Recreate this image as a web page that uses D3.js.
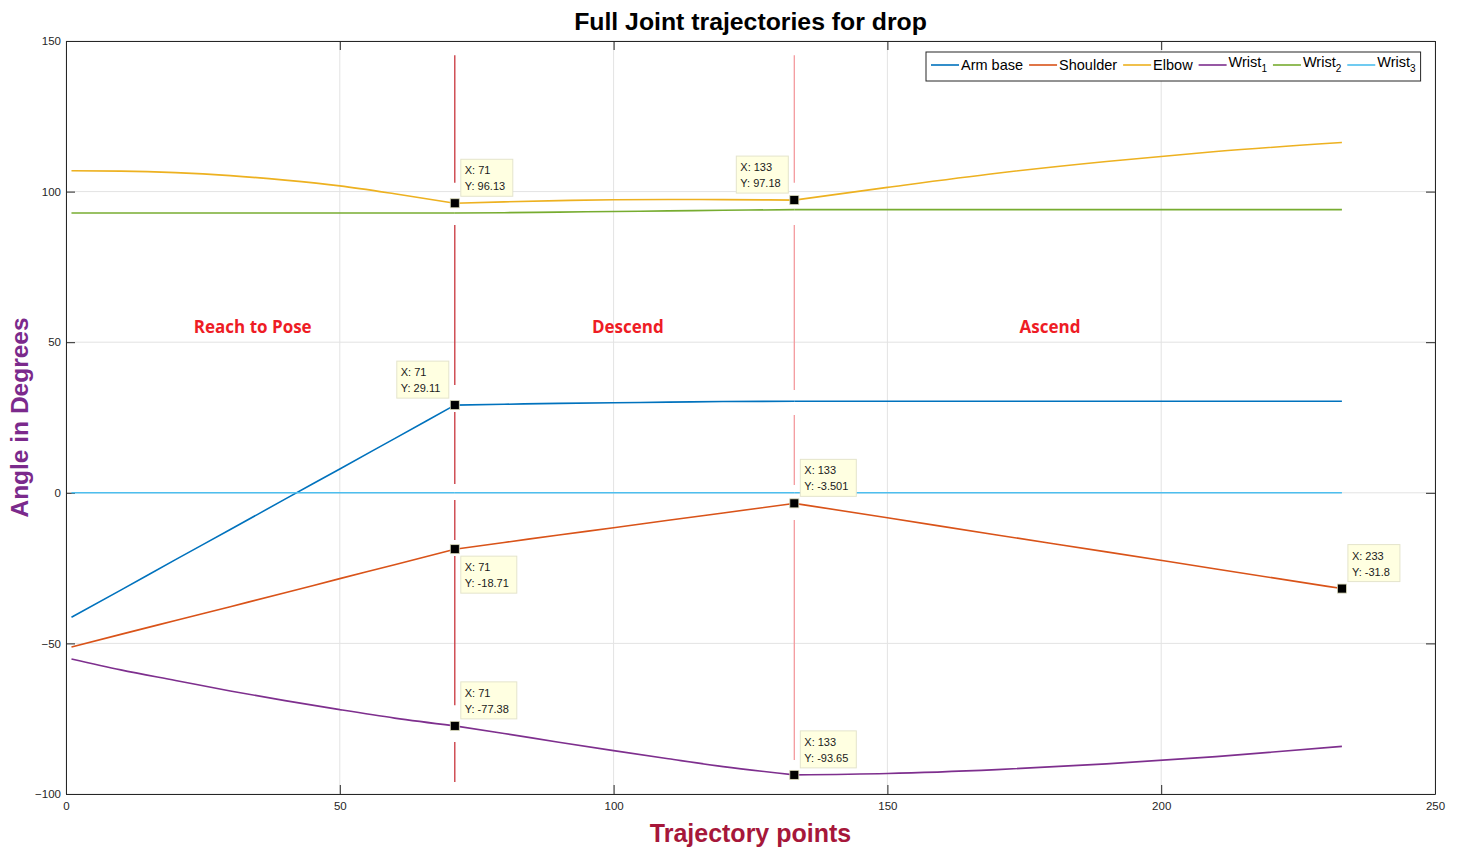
<!DOCTYPE html>
<html>
<head>
<meta charset="utf-8">
<script src="https://cdn.jsdelivr.net/npm/d3@7"></script>
<style>
  body { margin: 0; background: #fff; }
  svg { display: block; font-family: "Liberation Sans", Arial, sans-serif; }
</style>
</head>
<body>
<div id="chart"></div>
<script>
// Trajectory sample points (x axis)
var points = [1, 10, 20, 30, 40, 50, 60, 71, 80, 90, 100, 110, 120, 133, 150, 170, 190, 210, 233];

// Joint angles (degrees)
var armBase  = [-41.3, -32.3, -22.2, -12.2, -2.1, 7.9, 18.0, 29.11, 29.4, 29.7, 29.9, 30.1, 30.3, 30.4, 30.4, 30.4, 30.4, 30.4, 30.4];
var shoulder = [-51.2, -47.0, -42.4, -37.8, -33.2, -28.5, -23.9, -18.71, -16.5, -14.0, -11.6, -9.1, -6.7, -3.501, -8.3, -14.0, -19.6, -25.3, -31.8];
var elbow    = [106.9, 106.8, 106.3, 105.3, 103.8, 101.9, 99.3, 96.13, 96.6, 97.0, 97.3, 97.4, 97.35, 97.18, 101.4, 106.1, 110.0, 113.3, 116.3];
var wrist1   = [-55.2, -58.8, -62.3, -65.8, -69.0, -72.0, -74.8, -77.38, -79.9, -82.8, -85.6, -88.3, -90.9, -93.65, -93.2, -91.9, -90.0, -87.6, -84.2];
var wrist2   = [92.9, 92.9, 92.9, 92.9, 92.9, 92.9, 92.9, 92.9, 93.0, 93.2, 93.4, 93.6, 93.8, 94.0, 94.0, 94.0, 94.0, 94.0, 94.0];
var wrist3   = [0, 0, 0, 0, 0, 0, 0, 0, 0, 0, 0, 0, 0, 0, 0, 0, 0, 0, 0];

var seriesNames = ["Arm base", "Shoulder", "Elbow", "Wrist1", "Wrist2", "Wrist3"];
var seriesValues = [armBase, shoulder, elbow, wrist1, wrist2, wrist3];
var seriesColors = ["#0072BD", "#D95319", "#EDB120", "#7E2F8E", "#77AC30", "#4DBEEE"];

// Tick labels
var xTicks = [0, 50, 100, 150, 200, 250];
var yTicks = [-100, -50, 0, 50, 100, 150];

// Data tips: series index, x, y
var tipSeries = [2, 2, 0, 1, 1, 1, 3, 3];
var tipX = [71, 133, 71, 71, 133, 233, 71, 133];
var tipY = [96.13, 97.18, 29.11, -18.71, -3.501, -31.8, -77.38, -93.65];
var tipLabelY = ["96.13", "97.18", "29.11", "-18.71", "-3.501", "-31.8", "-77.38", "-93.65"];
// where the box sits relative to the marker
var tipSide = ["ne", "nw", "nw", "se", "ne", "ne", "ne", "ne"];

// Phase boundaries (trajectory point where each phase ends)
var phaseX = [71, 133];
var phaseColors = ["#c8343c", "#f49a9e"];
// vertical lines, broken where they cross the curves (degrees)
var phaseSegments = [
    [[145.3, 102.9], [88.9, 35.8], [26.8, 2.9], [-2.4, -15.7], [-21.0, -70.5], [-82.7, -96.0]],
    [[145.3, 102.9], [88.9, 34.1], [25.8, 2.6], [-9.0, -88.7]]
];

// Phase labels
var phaseLabels = ["Reach to Pose", "Descend", "Ascend"];
var phaseLabelX = [34.1, 102.6, 179.7];
var phaseLabelY = 53;

// Layout
var width = 1459, height = 848;
var margin = { top: 41, right: 24, bottom: 54, left: 66 };
var plotW = 1435 - margin.left, plotH = 794 - margin.top;

var svg = d3.select("#chart").append("svg")
    .attr("width", width)
    .attr("height", height);

var x = d3.scaleLinear().domain([0, 250]).range([margin.left, margin.left + plotW]);
var y = d3.scaleLinear().domain([-100, 150]).range([margin.top + plotH, margin.top]);

// Grid
var grid = svg.append("g");
grid.selectAll(".gx").data(xTicks).enter().append("line")
    .attr("x1", function (d) { return x(d); }).attr("x2", function (d) { return x(d); })
    .attr("y1", y(-100)).attr("y2", y(150))
    .attr("stroke", "#e3e3e3").attr("stroke-width", 1);
grid.selectAll(".gy").data(yTicks).enter().append("line")
    .attr("x1", x(0)).attr("x2", x(250))
    .attr("y1", function (d) { return y(d); }).attr("y2", function (d) { return y(d); })
    .attr("stroke", "#e3e3e3").attr("stroke-width", 1);

// Axes, MATLAB style: ticks pointing in
var xAxis = svg.append("g")
    .attr("transform", "translate(0," + y(-100) + ")")
    .call(d3.axisBottom(x).tickValues(xTicks).tickSizeInner(-9).tickSizeOuter(0).tickPadding(8));
var xAxisTop = svg.append("g")
    .attr("transform", "translate(0," + y(150) + ")")
    .call(d3.axisTop(x).tickValues(xTicks).tickSizeInner(-9).tickSizeOuter(0).tickFormat(""));
var yAxis = svg.append("g")
    .attr("transform", "translate(" + x(0) + ",0)")
    .call(d3.axisLeft(y).tickValues(yTicks).tickSizeInner(-9).tickSizeOuter(0).tickPadding(5));
var yAxisRight = svg.append("g")
    .attr("transform", "translate(" + x(250) + ",0)")
    .call(d3.axisRight(y).tickValues(yTicks).tickSizeInner(-9).tickSizeOuter(0).tickFormat(""));

[xAxis, xAxisTop, yAxis, yAxisRight].forEach(function (a) {
    a.select(".domain").attr("stroke", "#262626");
    a.selectAll(".tick line").attr("stroke", "#262626");
    a.selectAll("text").attr("fill", "#262626").style("font-size", "11.5px")
        .style("font-family", "'Liberation Sans', Arial, sans-serif");
});

// Phase separator lines
phaseX.forEach(function (px, i) {
    svg.append("g").selectAll("line").data(phaseSegments[i]).enter().append("line")
        .attr("x1", x(px)).attr("x2", x(px))
        .attr("y1", function (d) { return y(d[0]); })
        .attr("y2", function (d) { return y(d[1]); })
        .attr("stroke", phaseColors[i]).attr("stroke-width", 1.3);
});

// Curves, smoothed within each phase so the corners at the phase boundaries stay sharp
var line = d3.line()
    .x(function (d) { return x(d[0]); })
    .y(function (d) { return y(d[1]); })
    .curve(d3.curveMonotoneX);

var bounds = [points[0]].concat(phaseX, [points[points.length - 1]]);

seriesValues.forEach(function (vals, i) {
    var pts = points.map(function (p, j) { return [p, vals[j]]; });
    for (var k = 0; k < bounds.length - 1; k++) {
        var part = pts.filter(function (d) { return d[0] >= bounds[k] && d[0] <= bounds[k + 1]; });
        svg.append("path")
            .datum(part)
            .attr("d", line)
            .attr("fill", "none")
            .attr("stroke", seriesColors[i])
            .attr("stroke-width", 1.6)
            .attr("stroke-linejoin", "round");
    }
});

// Phase labels
svg.selectAll(".phase").data(phaseLabels).enter().append("text")
    .attr("x", function (d, i) { return x(phaseLabelX[i]); })
    .attr("y", y(phaseLabelY))
    .attr("text-anchor", "middle")
    .attr("fill", "#ee1c25")
    .style("font-family", "'Open Sans', Lato, sans-serif")
    .style("font-weight", "bold")
    .style("font-size", "17px")
    .text(function (d) { return d; });

// Data tips
var tips = svg.append("g");
tipX.forEach(function (tx, i) {
    var mx = x(tx), my = y(tipY[i]);
    var bw = tipLabelY[i].length > 5 ? 56 : 52, bh = 37;
    var side = tipSide[i];
    var bx = side.indexOf("w") >= 0 ? mx - 6 - bw : mx + 6;
    var by = side.indexOf("s") >= 0 ? my + 7 : my - 7 - bh;
    var g = tips.append("g");
    g.append("rect")
        .attr("x", bx).attr("y", by).attr("width", bw).attr("height", bh)
        .attr("fill", "#ffffe1").attr("stroke", "#e4e4cc").attr("stroke-width", 1);
    g.append("text").attr("x", bx + 4).attr("y", by + 15)
        .style("font-size", "11px").attr("fill", "#1a1a1a")
        .text("X: " + tx);
    g.append("text").attr("x", bx + 4).attr("y", by + 31)
        .style("font-size", "11px").attr("fill", "#1a1a1a")
        .text("Y: " + tipLabelY[i]);
    g.append("rect")
        .attr("x", mx - 4.5).attr("y", my - 4.5).attr("width", 9).attr("height", 9)
        .attr("fill", "#000").attr("stroke", "#d8d8b8").attr("stroke-width", 0.8);
});

// Legend
var legend = svg.append("g");
var lgX = 926, lgY = 52, lgH = 29;
var cursor = lgX + 5;
var lgItems = legend.append("g");
seriesNames.forEach(function (name, i) {
    lgItems.append("line")
        .attr("x1", cursor).attr("x2", cursor + 28)
        .attr("y1", lgY + 13).attr("y2", lgY + 13)
        .attr("stroke", seriesColors[i]).attr("stroke-width", 1.6);
    var t = lgItems.append("text")
        .attr("x", cursor + 30).attr("y", lgY + 18)
        .style("font-size", "14.5px").attr("fill", "#000");
    if (name.indexOf("Wrist") === 0) {
        t.attr("y", lgY + 15);
        t.append("tspan").text("Wrist");
        t.append("tspan").attr("dy", 5).style("font-size", "10px").text(name.slice(5));
    } else {
        t.text(name);
    }
    var w = t.node().getComputedTextLength();
    cursor = cursor + 30 + w + 6;
});
legend.insert("rect", ":first-child")
    .attr("x", lgX).attr("y", lgY)
    .attr("width", cursor - lgX - 1).attr("height", lgH)
    .attr("fill", "#fff").attr("stroke", "#262626").attr("stroke-width", 1);

// Title and axis labels
svg.append("text")
    .attr("x", x(125)).attr("y", 30)
    .attr("text-anchor", "middle")
    .style("font-size", "24.8px").style("font-weight", "bold").attr("fill", "#000")
    .text("Full Joint trajectories for drop");

svg.append("text")
    .attr("x", x(125)).attr("y", 842)
    .attr("text-anchor", "middle")
    .style("font-size", "25px").style("font-weight", "bold").attr("fill", "#a6173a")
    .text("Trajectory points");

svg.append("text")
    .attr("transform", "translate(28," + y(25) + ") rotate(-90)")
    .attr("text-anchor", "middle")
    .style("font-size", "24.5px").style("font-weight", "bold").attr("fill", "#7b2a8c")
    .text("Angle in Degrees");
</script>
</body>
</html>
